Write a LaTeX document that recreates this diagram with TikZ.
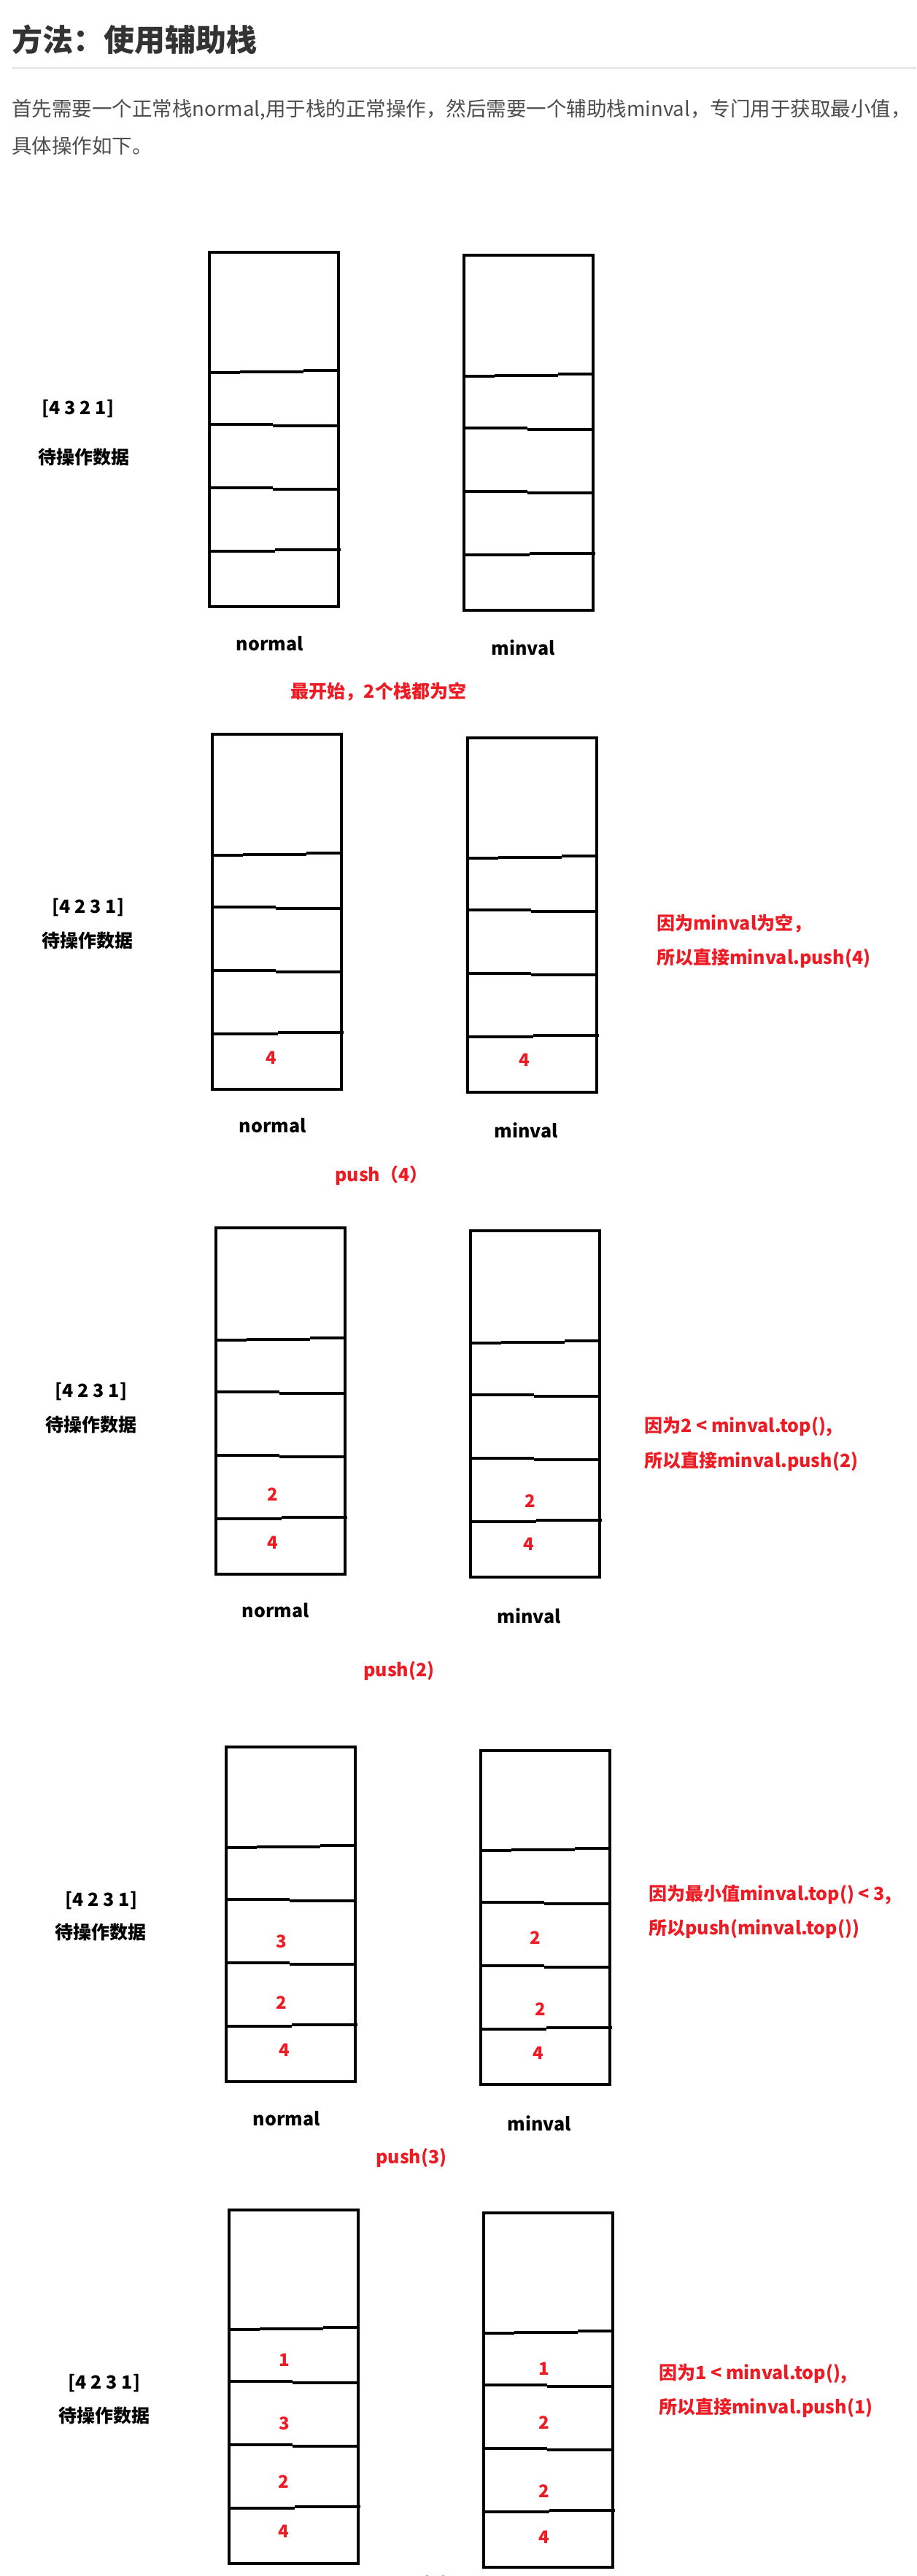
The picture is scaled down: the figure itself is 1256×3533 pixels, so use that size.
\documentclass[tikz,border=0pt]{standalone}
\usepackage{fontspec}
\usepackage{xcolor}
\newfontfamily\cjk{Noto Sans CJK SC}
\definecolor{paintred}{RGB}{237,28,36}
\definecolor{headgray}{RGB}{51,51,51}
\definecolor{textgray}{RGB}{77,77,77}
\definecolor{rulegray}{RGB}{232,232,238}

\newcommand\stackcol[3]{%
  \draw[stackline] (#1,#2) rectangle (#1+177,#3+322);
  \draw[stackline] (#1,#3+1) -- (#1+42,#3+1) (#1+42,#3) -- (#1+129,#3) (#1+129,#3-2) -- (#1+177,#3-2);
  \draw[stackline] (#1,#3+72) -- (#1+87,#3+72) (#1+87,#3+74) -- (#1+177,#3+74);
  \draw[stackline] (#1,#3+159) -- (#1+87,#3+159) (#1+87,#3+161) -- (#1+177,#3+161);
  \draw[stackline] (#1,#3+246) -- (#1+90,#3+246) (#1+90,#3+244) -- (#1+180,#3+244);
}

\begin{document}
\begin{tikzpicture}[x=1pt,y=-1pt,
    stackline/.style={line width=4pt},
    lbl/.style={font=\cjk\bfseries\fontsize{25}{30}\selectfont,inner sep=0pt},
    redlbl/.style={lbl,text=paintred},
    note/.style={redlbl,anchor=west},
    num/.style={font=\cjk\bfseries\fontsize{24}{28}\selectfont,text=paintred,inner sep=0pt}]
  \useasboundingbox[fill=white] (0,0) rectangle (1256,3533);

  \node[anchor=west,inner sep=0pt,text=headgray,font=\cjk\bfseries\fontsize{42}{50}\selectfont] (title) at (16,54) {方法：使用辅助栈};
  \draw[rulegray,line width=3pt] (16,93) -- (1256,93);
  \node[anchor=west,inner sep=0pt,text=textgray,font=\cjk\fontsize{27.5}{33}\selectfont] (intro-1) at (16,150) {首先需要一个正常栈normal,用于栈的正常操作，然后需要一个辅助栈minval，专门用于获取最小值，};
  \node[anchor=west,inner sep=0pt,text=textgray,font=\cjk\fontsize{27.5}{33}\selectfont] (intro-2) at (16,200) {具体操作如下。};

  \stackcol{287}{346}{510}
  \stackcol{636}{350}{515}
  \node[lbl] (s1-list) at (107,561) {[4 3 2 1]};
  \node[lbl] (s1-data) at (115,627) {待操作数据};
  \node[lbl] (s1-normal) at (370,883) {normal};
  \node[lbl] (s1-minval) at (717,888) {minval};
  \node[redlbl] (s1-cap) at (519,949) {最开始，2个栈都为空};

  \stackcol{291}{1007}{1172}
  \stackcol{641}{1012}{1176}
  \node[lbl] (s2-list) at (121,1245) {[4 2 3 1]};
  \node[lbl] (s2-data) at (120,1290) {待操作数据};
  \node[num] (s2-n1) at (372,1451) {4};
  \node[num] (s2-m1) at (719,1454) {4};
  \node[note] (s2-why) at (900,1267) {因为minval为空，};
  \node[note] (s2-do) at (900,1314) {所以直接minval.push(4)};
  \node[lbl] (s2-normal) at (374,1544) {normal};
  \node[lbl] (s2-minval) at (721,1550) {minval};
  \node[redlbl] (s2-cap) at (523,1612) {push（4）};

  \stackcol{296}{1684}{1837}
  \stackcol{645}{1688}{1841}
  \node[lbl] (s3-list) at (125,1909) {[4 2 3 1]};
  \node[lbl] (s3-data) at (125,1954) {待操作数据};
  \node[num] (s3-n2) at (374,2050) {2};
  \node[num] (s3-n1) at (374,2116) {4};
  \node[num] (s3-m2) at (727,2059) {2};
  \node[num] (s3-m1) at (725,2118) {4};
  \node[note] (s3-why) at (883,1957) {因为2 < minval.top(),};
  \node[note] (s3-do) at (883,2004) {所以直接minval.push(2)};
  \node[lbl] (s3-normal) at (378,2209) {normal};
  \node[lbl] (s3-minval) at (725,2216) {minval};
  \node[redlbl] (s3-cap) at (547,2292) {push(2)};

  \stackcol{310}{2396}{2533}
  \stackcol{659}{2401}{2537}
  \node[lbl] (s4-list) at (139,2607) {[4 2 3 1]};
  \node[lbl] (s4-data) at (138,2650) {待操作数据};
  \node[num] (s4-n3) at (386,2663) {3};
  \node[num] (s4-n2) at (386,2747) {2};
  \node[num] (s4-n1) at (390,2812) {4};
  \node[num] (s4-m3) at (734,2658) {2};
  \node[num] (s4-m2) at (741,2756) {2};
  \node[num] (s4-m1) at (738,2816) {4};
  \node[note] (s4-why) at (889,2599) {因为最小值minval.top() < 3,};
  \node[note] (s4-do) at (889,2646) {所以push(minval.top())};
  \node[lbl] (s4-normal) at (393,2906) {normal};
  \node[lbl] (s4-minval) at (739,2912) {minval};
  \node[redlbl] (s4-cap) at (564,2960) {push(3)};

  \stackcol{314}{3031}{3194}
  \stackcol{663}{3035}{3199}
  \node[lbl] (s5-list) at (143,3269) {[4 2 3 1]};
  \node[lbl] (s5-data) at (143,3313) {待操作数据};
  \node[num] (s5-n4) at (390,3237) {1};
  \node[num] (s5-n3) at (390,3324) {3};
  \node[num] (s5-n2) at (389,3404) {2};
  \node[num] (s5-n1) at (389,3472) {4};
  \node[num] (s5-m4) at (746,3249) {1};
  \node[num] (s5-m3) at (746,3323) {2};
  \node[num] (s5-m2) at (746,3417) {2};
  \node[num] (s5-m1) at (746,3480) {4};
  \node[note] (s5-why) at (903,3256) {因为1 < minval.top(),};
  \node[note] (s5-do) at (903,3302) {所以直接minval.push(1)};
  \node[redlbl,anchor=base] (s5-cap) at (566,3553) {push(1)};
\end{tikzpicture}
\end{document}
